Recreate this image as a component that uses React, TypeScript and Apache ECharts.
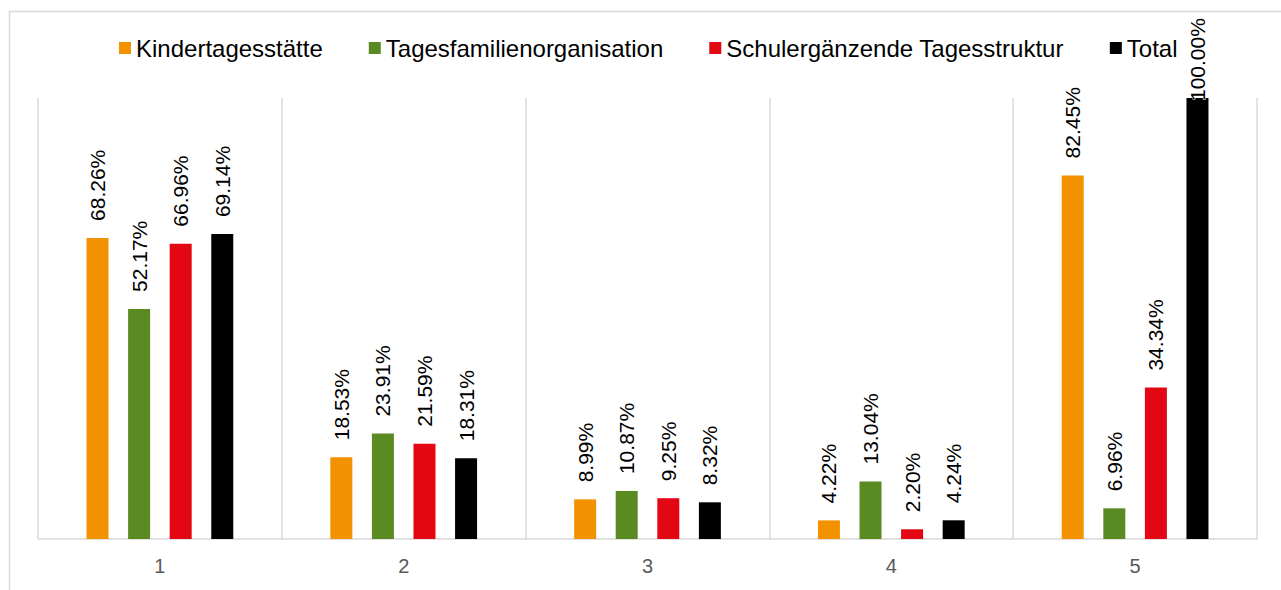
import React, { useEffect, useRef } from "react";
import * as echarts from "echarts";

const categories = ["1", "2", "3", "4", "5"];
const seriesNames = ["Kindertagesstätte", "Tagesfamilienorganisation", "Schulergänzende Tagesstruktur", "Total"];
const kita = [68.26, 18.53, 8.99, 4.22, 82.45];
const tagesfam = [52.17, 23.91, 10.87, 13.04, 6.96];
const schul = [66.96, 21.59, 9.25, 2.2, 34.34];
const total = [69.14, 18.31, 8.32, 4.24, 100.0];
const colors = ["#F39200", "#5A8A22", "#E30613", "#000000"];

const FONT = "'Liberation Sans', Arial, sans-serif";

export default function App() {
  const ref = useRef<HTMLDivElement>(null);
  useEffect(() => {
    if (!ref.current) return;
    const chart = echarts.init(ref.current, null, { renderer: "svg" });
    const data = [kita, tagesfam, schul, total];
    chart.setOption({
      animation: false,
      backgroundColor: "#ffffff",
      textStyle: { fontFamily: FONT },
      graphic: [
        {
          type: "rect",
          shape: { x: 9.5, y: 11.5, width: 1300, height: 620 },
          style: { fill: "none", stroke: "#d9d9d9", lineWidth: 1.5 },
          silent: true,
        },
      ],
      legend: {
        left: 114,
        top: 31,
        itemWidth: 12,
        itemHeight: 12,
        itemGap: 46,
        icon: "rect",
        textStyle: { fontSize: 24, color: "#000", fontFamily: FONT },
        data: seriesNames,
      },
      grid: { left: 38, right: 24, top: 98, bottom: 51, containLabel: false },
      xAxis: {
        type: "category",
        data: categories,
        axisLine: { lineStyle: { color: "#d9d9d9", width: 1.5 } },
        axisTick: { show: false },
        splitLine: { show: true, lineStyle: { color: "#d9d9d9", width: 1.5 } },
        axisLabel: { fontSize: 20, color: "#595959", margin: 17, fontFamily: FONT },
      },
      yAxis: {
        type: "value",
        min: 0,
        max: 100,
        show: false,
        splitLine: { show: false },
      },
      series: seriesNames.map((name, i) => ({
        name,
        type: "bar",
        data: data[i].map((v) =>
          v >= 95
            ? {
                value: v,
                label: {
                  distance: -3,
                  textBorderColor: "#ffffff",
                  textBorderWidth: 1,
                },
              }
            : v
        ),
        barWidth: 22,
        barGap: "89%",
        itemStyle: { color: colors[i] },
        label: {
          show: true,
          position: "top",
          rotate: 90,
          align: "left",
          verticalAlign: "middle",
          distance: 17,
          fontSize: 21,
          color: "#000",
          fontFamily: FONT,
          formatter: (p: any) => p.value.toFixed(2) + "%",
        },
      })),
    });
    return () => chart.dispose();
  }, []);
  return (
    <div
      ref={ref}
      style={{ position: "fixed", left: 0, top: 0, width: 1281, height: 590 }}
    />
  );
}
